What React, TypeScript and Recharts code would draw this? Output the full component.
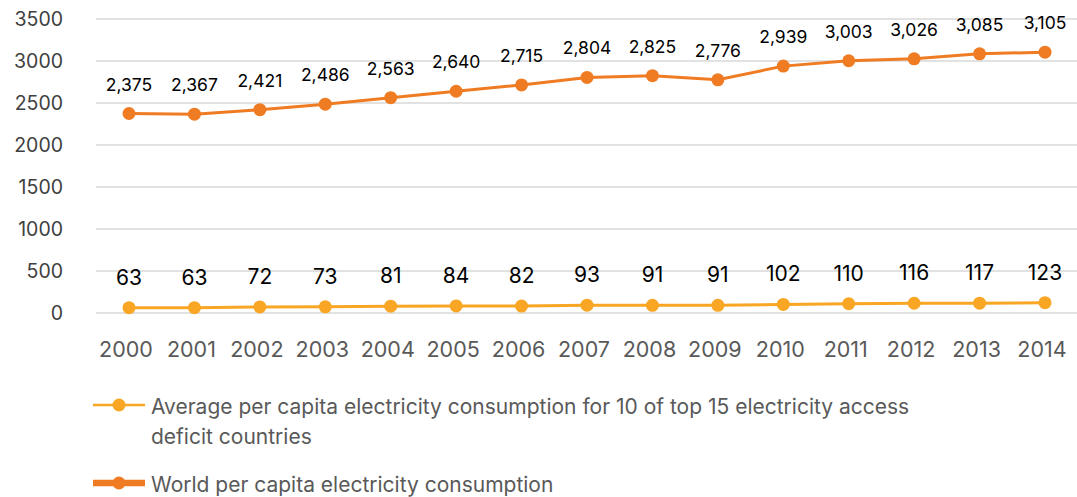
import { LineChart, Line, XAxis, YAxis, CartesianGrid, LabelList } from "recharts";

const years = ["2000", "2001", "2002", "2003", "2004", "2005", "2006", "2007", "2008", "2009", "2010", "2011", "2012", "2013", "2014"];
const worldValues = [2375, 2367, 2421, 2486, 2563, 2640, 2715, 2804, 2825, 2776, 2939, 3003, 3026, 3085, 3105];
const deficitValues = [63, 63, 72, 73, 81, 84, 82, 93, 91, 91, 102, 110, 116, 117, 123];
const yTicks = [0, 500, 1000, 1500, 2000, 2500, 3000, 3500];

const WORLD_COLOR = "#EF7B22";
const DEFICIT_COLOR = "#F8A623";
const FONT = "Inter, 'Noto Sans', sans-serif";

const data = years.map((year, i) => ({
  year,
  world: worldValues[i],
  deficit: deficitValues[i],
}));

const legendItems = [
  {
    label: "Average per capita electricity consumption for 10 of top 15 electricity access deficit countries",
    color: DEFICIT_COLOR,
    width: 2.5,
  },
  { label: "World per capita electricity consumption", color: WORLD_COLOR, width: 6.5 },
];

export default function App() {
  return (
    <div style={{ position: "absolute", left: 0, top: 0, width: 1077, height: 497, background: "#fff", fontFamily: FONT }}>
      <LineChart width={1077} height={380} data={data} margin={{ top: 19, right: 0, bottom: 0, left: 0 }}>
        <CartesianGrid vertical={false} stroke="#d9d9d9" strokeWidth={1.5} />
        <XAxis
          dataKey="year"
          axisLine={false}
          tickLine={false}
          tickMargin={23}
          height={67}
          padding={{ left: 33, right: 32 }}
          tick={{ fill: "#595959", fontSize: 21.5, fontFamily: FONT, dx: -3 }}
          interval={0}
        />
        <YAxis
          width={96}
          domain={[0, 3500]}
          ticks={yTicks}
          axisLine={false}
          tickLine={false}
          tickMargin={27}
          tick={{ fill: "#404040", fontSize: 19.5, fontFamily: FONT }}
        />
        <Line
          dataKey="deficit"
          stroke={DEFICIT_COLOR}
          strokeWidth={3}
          dot={{ r: 6.5, fill: DEFICIT_COLOR, stroke: DEFICIT_COLOR, strokeWidth: 0 }}
          isAnimationActive={false}
        >
          <LabelList dataKey="deficit" position="top" offset={23} fill="#000" fontSize={21} fontFamily={FONT} />
        </Line>
        <Line
          dataKey="world"
          stroke={WORLD_COLOR}
          strokeWidth={3}
          dot={{ r: 6.5, fill: WORLD_COLOR, stroke: WORLD_COLOR, strokeWidth: 0 }}
          isAnimationActive={false}
        >
          <LabelList
            dataKey="world"
            position="top"
            offset={23}
            fill="#000"
            fontSize={17.5}
            fontFamily={FONT}
            formatter={(v: number) => v.toLocaleString("en-US")}
          />
        </Line>
      </LineChart>
      <div style={{ position: "absolute", left: 93, top: 392, width: 860 }}>
        {legendItems.map((item, i) => (
          <div key={item.label} style={{ display: "flex", alignItems: "flex-start", marginBottom: i === 0 ? 18 : 0 }}>
            <svg width={53} height={30} style={{ flexShrink: 0 }}>
              <line x1={0} x2={52} y1={13} y2={13} stroke={item.color} strokeWidth={item.width} />
              <circle cx={26} cy={13} r={6.5} fill={item.color} />
            </svg>
            <span style={{ marginLeft: 5, color: "#595959", fontSize: 21, lineHeight: "30px", maxWidth: 775 }}>{item.label}</span>
          </div>
        ))}
      </div>
    </div>
  );
}
